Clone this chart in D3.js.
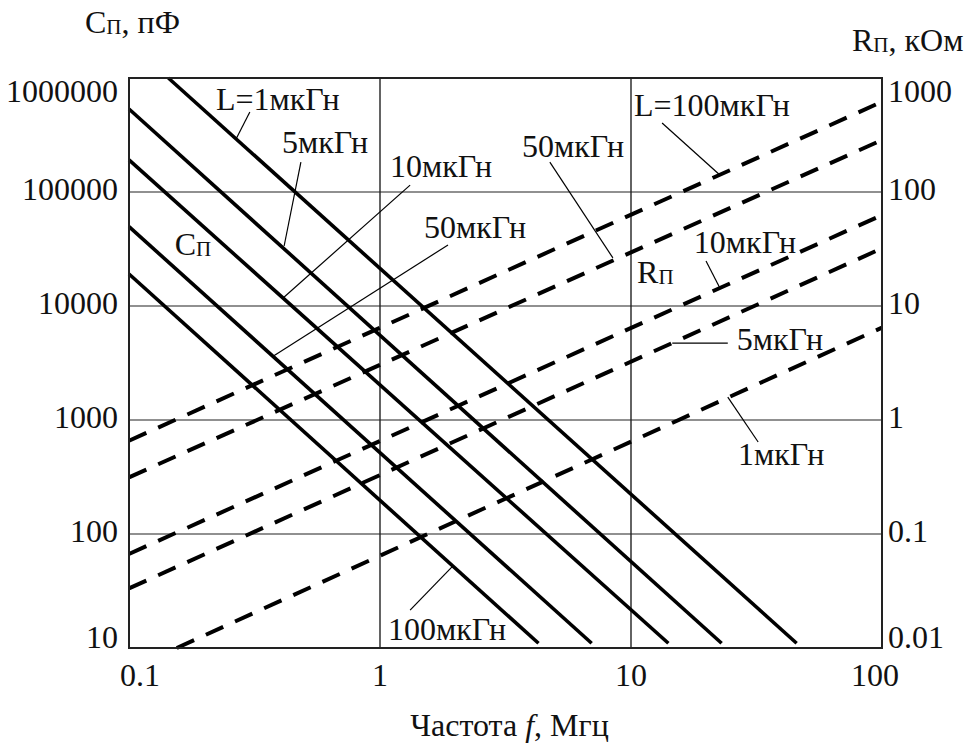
<!DOCTYPE html>
<html>
<head>
<meta charset="utf-8">
<script src="https://cdn.jsdelivr.net/npm/d3@7"></script>
<style>
  html, body { margin: 0; padding: 0; background: #fff; }
  svg text { font-family: "Liberation Serif", "Times New Roman", serif; fill: #111; }
</style>
</head>
<body>
<svg id="chart" width="964" height="749"></svg>
<script>
// ---------- data ----------
const inductanceLabels = ["1", "5", "10", "50", "100"];           // мкГн
// Capacitance lines (solid): [f start, f end] in MHz and [C start, C end] in pF
const capFreq  = [[0.1435, 45.7], [0.1, 22.96], [0.1, 14.09], [0.1, 6.97], [0.1, 4.28]];
const capValue = [[1000000, 11], [534600, 11], [191000, 11], [49660, 11], [19100, 11]];
// Resistance lines (dashed): [f start, f end] in MHz and [R start, R end] in kOhm
const resFreq  = [[0.1, 100], [0.1, 100], [0.1, 100], [0.1, 100], [0.155, 100]];
const resValue = [[0.658, 619], [0.314, 286], [0.0668, 62.8], [0.0333, 32.1], [0.01, 6.46]];
// order of resistance lines corresponds to L = 100, 50, 10, 5, 1 мкГн

const xTicks = [0.1, 1, 10, 100];
const xTickLabels = ["0.1", "1", "10", "100"];
const leftTicks = [10, 100, 1000, 10000, 100000, 1000000];
const leftTickLabels = ["10", "100", "1000", "10000", "100000", "1000000"];
const rightTicks = [0.01, 0.1, 1, 10, 100, 1000];
const rightTickLabels = ["0.01", "0.1", "1", "10", "100", "1000"];

// Annotations, anchored in data units (f in MHz, value on the left axis in pF)
const annText = ["L=1мкГн", "5мкГн", "10мкГн", "50мкГн", "100мкГн",
                 "L=100мкГн", "50мкГн", "10мкГн", "5мкГн", "1мкГн"];
const annAt   = [[0.222, 5.24e5], [0.407, 2.20e5], [1.096, 1.355e5], [1.496, 39500], [1.076, 11.7],
                 [10.28, 4.64e5], [3.68, 2.03e5], [17.8, 29200], [26.4, 4110], [26.7, 403]];
const leaderFrom = [[0.303, 5.03e5], [0.484, 1.83e5], [1.318, 1.15e5], [1.866, 34300], [1.318, 21.5],
                    [13.3, 4.03e5], [4.75, 1.83e5], [19.9, 24800], [14.6, 4730], [24.3, 1590]];
const leaderTo   = [[0.267, 2.92e5], [0.415, 33600], [0.411, 11750], [0.371, 3570], [1.936, 51.4],
                    [22.6, 1.41e5], [8.47, 26400], [22.6, 14400], [24.3, 4730], [32.1, 641]];
const seriesLabels = [{main: "С", sub: "П", at: [0.152, 28000]}, {main: "R", sub: "П", at: [10.57, 15900]}];

// ---------- layout ----------
const W = 964, H = 749;
const m = {left: 129, top: 78, right: 82, bottom: 101};
const pw = W - m.left - m.right, ph = H - m.top - m.bottom;
const FS = 32;

const svg = d3.select("#chart");
const g = svg.append("g").attr("transform", `translate(${m.left},${m.top})`);

const x = d3.scaleLog().domain([0.1, 100]).range([0, pw]);
const yL = d3.scaleLog().domain([10, 1000000]).range([ph, 0]);
const yR = d3.scaleLog().domain([0.01, 1000]).range([ph, 0]);

// grid
g.append("g").selectAll("line").data(leftTicks.slice(1, -1)).join("line")
  .attr("x1", 0).attr("x2", pw).attr("y1", d => yL(d)).attr("y2", d => yL(d))
  .attr("stroke", "#222").attr("stroke-width", 1.2);
g.append("g").selectAll("line").data(xTicks.slice(1, -1)).join("line")
  .attr("y1", 0).attr("y2", ph).attr("x1", d => x(d)).attr("x2", d => x(d))
  .attr("stroke", "#222").attr("stroke-width", 1.4);

// lines
const line = d3.line();
capFreq.forEach((fr, i) => {
  g.append("path")
    .attr("d", line([[x(fr[0]), yL(capValue[i][0])], [x(fr[1]), yL(capValue[i][1])]]))
    .attr("fill", "none").attr("stroke", "#000").attr("stroke-width", 3.6);
});
resFreq.forEach((fr, i) => {
  g.append("path")
    .attr("d", line([[x(fr[0]), yR(resValue[i][0])], [x(fr[1]), yR(resValue[i][1])]]))
    .attr("fill", "none").attr("stroke", "#000").attr("stroke-width", 4)
    .attr("stroke-dasharray", "19,13");
});

// frame
g.append("rect").attr("x", 0).attr("y", 0).attr("width", pw).attr("height", ph)
  .attr("fill", "none").attr("stroke", "#222").attr("stroke-width", 2);

// leaders
leaderFrom.forEach((a, i) => {
  const b = leaderTo[i];
  g.append("line").attr("x1", x(a[0])).attr("y1", yL(a[1]))
    .attr("x2", x(b[0])).attr("y2", yL(b[1]))
    .attr("stroke", "#000").attr("stroke-width", 1.2);
});

// annotation texts
annText.forEach((t, i) => {
  g.append("text").attr("x", x(annAt[i][0])).attr("y", yL(annAt[i][1]))
    .attr("font-size", FS).text(t);
});
seriesLabels.forEach(s => {
  const t = g.append("text").attr("x", x(s.at[0])).attr("y", yL(s.at[1])).attr("font-size", FS);
  t.append("tspan").text(s.main);
  t.append("tspan").attr("font-size", 21).attr("dy", 1).text(s.sub);
});

// tick labels
const clampY = v => Math.max(13, Math.min(ph - 11, v - 3));
g.append("g").selectAll("text").data(leftTicks).join("text")
  .attr("x", -11).attr("y", d => clampY(yL(d)))
  .attr("text-anchor", "end").attr("dominant-baseline", "central")
  .attr("font-size", FS).text((d, i) => leftTickLabels[i]);
g.append("g").selectAll("text").data(rightTicks).join("text")
  .attr("x", pw + 6).attr("y", d => clampY(yR(d)))
  .attr("text-anchor", "start").attr("dominant-baseline", "central")
  .attr("font-size", FS).text((d, i) => rightTickLabels[i]);
const clampX = v => Math.max(11, Math.min(pw - 7, v));
g.append("g").selectAll("text").data(xTicks).join("text")
  .attr("x", d => clampX(x(d))).attr("y", ph + 38)
  .attr("text-anchor", "middle")
  .attr("font-size", FS).text((d, i) => xTickLabels[i]);

// axis titles
const tl = svg.append("text").attr("x", 85).attr("y", 33).attr("font-size", FS);
tl.append("tspan").text("С");
tl.append("tspan").attr("font-size", 21).attr("dy", 1).text("П");
tl.append("tspan").attr("dy", -1).text(", пФ");

const tr = svg.append("text").attr("x", 852).attr("y", 51).attr("font-size", FS);
tr.append("tspan").text("R");
tr.append("tspan").attr("font-size", 21).attr("dy", 1).text("П");
tr.append("tspan").attr("dy", -1).text(", кОм");

const tx = svg.append("text").attr("x", m.left + pw / 2 + 4).attr("y", 736)
  .attr("text-anchor", "middle").attr("font-size", FS);
tx.append("tspan").text("Частота ");
tx.append("tspan").attr("font-style", "italic").text("f");
tx.append("tspan").text(", Мгц");
</script>
</body>
</html>
